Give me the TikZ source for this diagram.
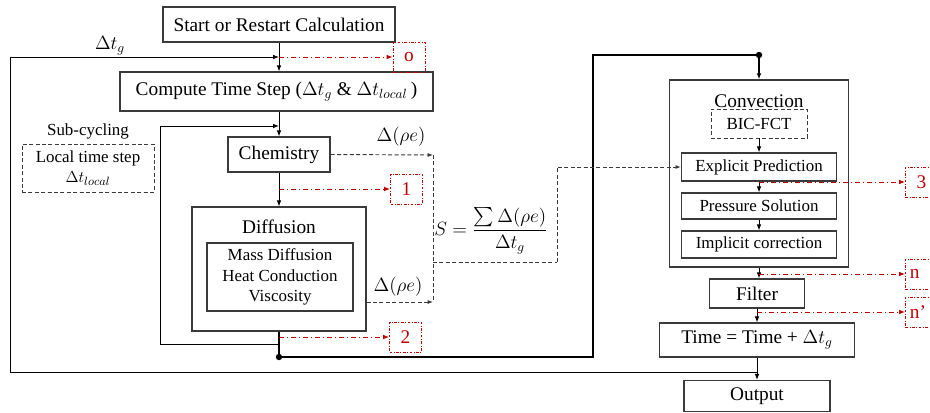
\documentclass[tikz,border=0pt]{standalone}
\usepackage{fontspec}
\setmainfont{Liberation Serif}
\usepackage{amsmath}
\usetikzlibrary{arrows.meta}
\definecolor{MarkerRed}{HTML}{C00000}
\definecolor{BoxGray}{HTML}{3A3A3A}

\tikzset{
  box/.style={draw=BoxGray,line width=0.9pt,inner sep=0pt,align=center,font=\fontsize{14.5}{17}\selectfont},
  subbox/.style={box,font=\fontsize{12.7}{15.5}\selectfont},
  markbox/.style={draw=MarkerRed,text=MarkerRed,line width=0.6pt,dash pattern=on 2pt off 1.2pt on 0.6pt off 1.2pt,
    inner sep=0pt,minimum width=24pt,minimum height=22.5pt,font=\fontsize{14.5}{17}\selectfont},
  flow/.style={-{Latex[length=4.5pt,width=3.5pt]},line width=0.7pt},
  redflow/.style={flow,MarkerRed,dash pattern=on 4pt off 2pt on 1pt off 2pt},
  dashline/.style={draw=BoxGray,line width=0.7pt,dash pattern=on 3pt off 1.8pt},
  heavy/.style={line width=1.6pt},
  junction/.style={circle,fill,inner sep=1.7pt},
  label/.style={font=\fontsize{14.5}{17}\selectfont}
}

\begin{document}
\begin{tikzpicture}[x=0.75pt,y=-0.75pt]
  \useasboundingbox (0,0) rectangle (930,412);
  % left column
  \node[box,minimum width=174pt,minimum height=26.25pt] (start) at (279,24.5) {Start or Restart Calculation};
  \node[box,minimum width=234.75pt,minimum height=29.25pt] (tstep) at (276.5,91.5) {Compute Time Step ($\Delta t_g$ \& $\Delta t_{local}$\,)};
  \node[box,minimum width=76.5pt,minimum height=26.25pt] (chem) at (279,154.5) {Chemistry};
  \node[box,minimum width=130.5pt,minimum height=93pt] (diff) at (279,269) {};
  \node[label] (difftitle) at (279,227) {Diffusion};
  \node[subbox,minimum width=109.5pt,minimum height=51pt] (diffterms) at (280,277) {Mass Diffusion\\Heat Conduction\\Viscosity};
  \node[label,font=\fontsize{12.7}{15}\selectfont] (subcyc) at (88,131) {Sub-cycling};
  \node[subbox,dashline,minimum width=99pt,minimum height=36pt] (local) at (88,168) {Local time step\\$\Delta t_{local}$};
  \node[label] (dtg) at (110,46) {$\Delta t_g$};
  \node[junction] (dotA) at (279,357) {};
  % markers
  \node[markbox] (mo) at (409,57) {o};
  \node[markbox] (m1) at (406.5,189) {1};
  \node[markbox] (m2) at (405.5,337) {2};
  \node[markbox,anchor=west] (m3) at (905,182) {3};
  \node[markbox,anchor=west,align=left,text width=22pt] (mn) at (905,274) {\,n};
  \node[markbox,anchor=west,align=left,text width=22pt] (mnp) at (905,312) {\,n'};
  % source term
  \node[label] (dre1) at (401,137) {$\Delta(\rho e)$};
  \node[label] (dre2) at (398,287) {$\Delta(\rho e)$};
  \node[label] (src) at (491,231) {$S=\dfrac{\textstyle\sum\Delta(\rho e)}{\Delta t_g}$};
  % right column
  \node[box,minimum width=134.25pt,minimum height=140.25pt] (conv) at (759,173.5) {};
  \node[label] (convtitle) at (759,101) {Convection};
  \node[subbox,dashline,minimum width=72pt,minimum height=21.75pt] (bic) at (759,123.5) {BIC-FCT};
  \node[subbox,minimum width=116.25pt,minimum height=21pt] (expl) at (759,167) {Explicit Prediction};
  \node[subbox,minimum width=116.25pt,minimum height=19.5pt] (pres) at (759,206) {Pressure Solution};
  \node[subbox,minimum width=116.25pt,minimum height=20.25pt] (impl) at (759,244.5) {Implicit correction};
  \node[box,minimum width=71.25pt,minimum height=21.75pt] (filter) at (757,293.5) {Filter};
  \node[box,minimum width=146.25pt,minimum height=25.5pt] (time) at (757,340) {Time = Time + $\Delta t_g$};
  \node[box,minimum width=109.5pt,minimum height=23.25pt] (output) at (757,396) {Output};
  \node[junction] (dotB) at (759,55) {};
  % helper points
  \coordinate (gjoin) at (279,57); \coordinate (lcorner) at (10,372);
  \coordinate (stop) at (279,126); \coordinate (sjoin) at (279,344); \coordinate (scorner) at (160,344);
  \coordinate (tcorner) at (593,357);
  \coordinate (sA) at (433,155); \coordinate (sB) at (433,302); \coordinate (sC) at (433,262); \coordinate (sD) at (557,262);
  % main flow
  \draw[flow] (start.south) -- (start.south |- tstep.north);
  \draw[flow] (chem.north |- tstep.south) -- (chem.north);
  \draw[flow] (chem.south) -- (diff.north);
  \draw[flow] (time.south |- lcorner) -- (lcorner) |- (gjoin);
  \draw[flow] (sjoin) -- (scorner) |- (stop);
  \draw[heavy] (diff.south) -- (dotA) -- (tcorner) |- (dotB);
  \draw[heavy,-{Latex[length=4.5pt,width=3.5pt]}] (dotB) -- (conv.north);
  \draw[flow] (bic.south) -- (expl.north);
  \draw[flow] (expl.south) -- (pres.north);
  \draw[flow] (pres.south) -- (impl.north);
  \draw[flow] (conv.south) -- (conv.south |- filter.north);
  \draw[flow] (filter.south) -- (filter.south |- time.north);
  \draw[flow] (time.south) -- (time.south |- output.north);
  % markers
  \draw[redflow] (gjoin) -- (mo.west);
  \draw[redflow] (chem.south |- m1.west) -- (m1.west);
  \draw[redflow] (diff.south |- m2.west) -- (m2.west);
  \draw[redflow] (expl.south |- m3.west) -- (m3.west);
  \draw[redflow] (conv.south |- mn.west) -- (mn.west);
  \draw[redflow] (filter.south |- mnp.west) -- (mnp.west);
  % energy release
  \draw[dashline,-{Latex[length=4pt,width=3pt]}] (chem.east) -- (sA);
  \draw[dashline,-{Latex[length=4pt,width=3pt]}] (diff.east |- sB) -- (sB);
  \draw[dashline] (sA) -- (sB); \draw[dashline] (sC) -- (sD);
  \draw[dashline,-{Latex[length=4pt,width=3pt]}] (sD) |- (expl.west);
\end{tikzpicture}
\end{document}
